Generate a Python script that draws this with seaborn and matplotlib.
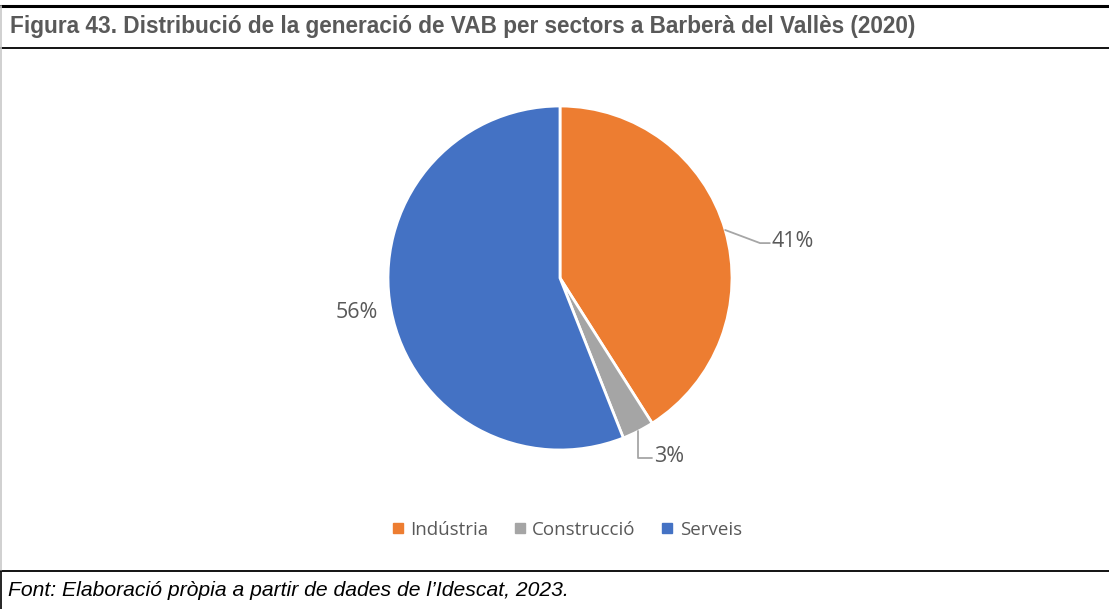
import numpy as np
import seaborn as sns
import matplotlib.pyplot as plt
from matplotlib.lines import Line2D

sectors = ["Indústria", "Construcció", "Serveis"]
shares = [41, 3, 56]
colors = ["#ED7D31", "#A5A5A5", "#4472C4"]

title = "Figura 43. Distribució de la generació de VAB per sectors a Barberà del Vallès (2020)"
source = "Font: Elaboració pròpia a partir de dades de l\u2019Idescat, 2023."

sns.set_theme(style="white")
plt.rcParams['font.family'] = ['Open Sans', 'DejaVu Sans']

W, H = 1109, 609
fig = plt.figure(figsize=(W / 100, H / 100), dpi=100)


def fx(px):
    return px / W


def fy(py):
    return 1 - py / H


# frame lines of the report table
fig.add_artist(Line2D([0, 1], [fy(6), fy(6)], color="black", lw=2.2))
fig.add_artist(Line2D([0, 1], [fy(48), fy(48)], color="black", lw=1.3))
fig.add_artist(Line2D([0, 1], [fy(571), fy(571)], color="black", lw=1.3))
fig.add_artist(Line2D([fx(1), fx(1)], [fy(6), fy(571)], color="#C8C8C8", lw=1.2))
fig.add_artist(Line2D([fx(1), fx(1)], [fy(571), 0], color="black", lw=1.2))

fig.text(fx(10), fy(27), title, fontsize=16.3, fontweight="bold", color="#595959",
         family="Liberation Sans", va="center", ha="left")
fig.text(fx(8), fy(591), source, fontsize=15.2, style="italic", color="black",
         family="Liberation Sans", va="center", ha="left")

# pie
cx, cy, r = 560, 278, 172
ax = fig.add_axes([fx(cx - r), fy(cy + r), 2 * r / W, 2 * r / H])
wedges, _ = ax.pie(shares, colors=colors, startangle=90, counterclock=False,
                   radius=1, wedgeprops=dict(edgecolor="white", linewidth=2))
ax.set_xlim(-1, 1)
ax.set_ylim(-1, 1)
ax.set_axis_off()

lab_kw = dict(fontsize=15.5, color="#595959", va="center")
lead_kw = dict(color="#A6A6A6", lw=1.3, clip_on=False)

# Indústria label with leader
w = wedges[0]
a = np.deg2rad((w.theta1 + w.theta2) / 2)
p0 = (np.cos(a), np.sin(a))
ax.plot([p0[0], 1.163, 1.22], [p0[1], 0.203, 0.203], **lead_kw)
ax.text(1.23, 0.21, f"{shares[0]}%", ha="left", **lab_kw)

# Construcció label with leader
w = wedges[1]
a = np.deg2rad((w.theta1 + w.theta2) / 2)
p0 = (np.cos(a), np.sin(a))
ax.plot([p0[0], p0[0], 0.535], [p0[1], -1.045, -1.045], **lead_kw)
ax.text(0.545, -1.038, f"{shares[1]}%", ha="left", **lab_kw)

# Serveis label
w = wedges[2]
a = np.deg2rad((w.theta1 + w.theta2) / 2)
ax.text(1.075 * np.cos(a), 1.075 * np.sin(a) + 0.0, f"{shares[2]}%", ha="right", **lab_kw)

handles = [Line2D([], [], marker="s", linestyle="none", markersize=7,
                  markerfacecolor=c, markeredgecolor=c) for c in colors]
leg = fig.legend(handles, sectors, loc="center", bbox_to_anchor=(fx(565), fy(530)),
                 ncol=3, frameon=False, fontsize=13.5, handletextpad=0.15,
                 columnspacing=1.2, handlelength=1.0)
for t in leg.get_texts():
    t.set_color("#595959")

fig.savefig("out.png", dpi=100)
